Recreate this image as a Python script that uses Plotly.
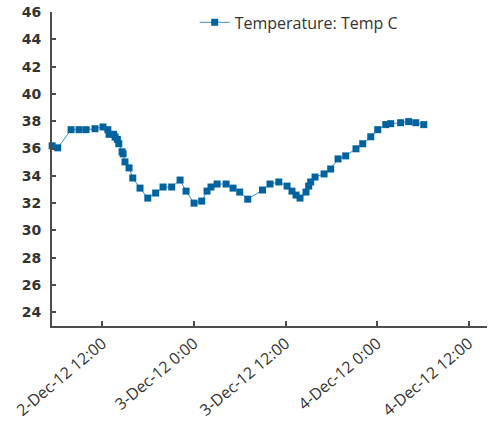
import plotly.graph_objects as go

times = [
    "2012-12-02 05:25", "2012-12-02 06:09", "2012-12-02 07:54", "2012-12-02 08:57",
    "2012-12-02 09:52", "2012-12-02 11:02", "2012-12-02 12:05", "2012-12-02 12:43",
    "2012-12-02 12:53", "2012-12-02 13:29", "2012-12-02 13:40", "2012-12-02 13:58",
    "2012-12-02 14:09", "2012-12-02 14:35", "2012-12-02 14:43", "2012-12-02 14:58",
    "2012-12-02 15:30", "2012-12-02 15:59", "2012-12-02 16:56", "2012-12-02 17:57",
    "2012-12-02 18:59", "2012-12-02 19:57", "2012-12-02 21:05", "2012-12-02 22:11",
    "2012-12-02 22:58", "2012-12-03 00:01", "2012-12-03 01:01", "2012-12-03 01:43",
    "2012-12-03 02:14", "2012-12-03 03:02", "2012-12-03 04:13", "2012-12-03 05:07",
    "2012-12-03 06:00", "2012-12-03 07:03", "2012-12-03 08:59", "2012-12-03 09:58",
    "2012-12-03 11:07", "2012-12-03 12:12", "2012-12-03 12:51", "2012-12-03 13:23",
    "2012-12-03 13:54", "2012-12-03 14:41", "2012-12-03 15:02", "2012-12-03 15:18",
    "2012-12-03 15:52", "2012-12-03 17:03", "2012-12-03 17:55", "2012-12-03 18:53",
    "2012-12-03 19:53", "2012-12-03 21:14", "2012-12-03 22:07", "2012-12-03 23:10",
    "2012-12-04 00:05", "2012-12-04 01:08", "2012-12-04 01:47", "2012-12-04 03:05",
    "2012-12-04 04:08", "2012-12-04 05:04", "2012-12-04 06:07",
]

temps = [
    36.20, 36.05, 37.38, 37.38, 37.38, 37.45, 37.58, 37.38,
    37.04, 37.04, 36.84, 36.67, 36.35, 35.76, 35.61, 35.02,
    34.58, 33.84, 33.10, 32.37, 32.74, 33.18, 33.18, 33.69,
    32.88, 32.00, 32.15, 32.88, 33.18, 33.40, 33.40, 33.10,
    32.81, 32.29, 32.96, 33.40, 33.55, 33.25, 32.88, 32.59,
    32.37, 32.81, 33.25, 33.55, 33.91, 34.14, 34.50, 35.24,
    35.46, 35.98, 36.35, 36.86, 37.38, 37.75, 37.82, 37.89,
    37.97, 37.89, 37.75,
]

x_tick_vals = ["2012-12-02 12:00", "2012-12-03 00:00", "2012-12-03 12:00",
               "2012-12-04 00:00", "2012-12-04 12:00"]
x_tick_text = ["2-Dec-12 12:00", "3-Dec-12 0:00", "3-Dec-12 12:00",
               "4-Dec-12 0:00", "4-Dec-12 12:00"]
y_tick_vals = [24, 26, 28, 30, 32, 34, 36, 38, 40, 42, 44, 46]

series_name = "Temperature: Temp C"

fig = go.Figure()
fig.add_trace(go.Scatter(
    x=times, y=temps, mode="lines+markers", name=series_name,
    line=dict(color="#3f8cc6", width=1),
    marker=dict(symbol="square", size=7, color="#00639f"),
    cliponaxis=False,
))

fig.update_layout(
    width=488, height=422,
    margin=dict(l=52, r=1, t=12, b=96, autoexpand=False),
    paper_bgcolor="white", plot_bgcolor="white",
    showlegend=True,
    legend=dict(x=0.328, y=1.021, xanchor="left", yanchor="top",
                font=dict(family="Open Sans", size=16, color="#333333"),
                bgcolor="rgba(0,0,0,0)"),
    font=dict(family="Open Sans", color="#333333"),
)

fig.update_xaxes(
    type="date",
    range=["2012-12-02 05:24", "2012-12-04 14:24"],
    tickmode="array", tickvals=x_tick_vals, ticktext=x_tick_text,
    tickangle=-40, ticks="inside", ticklen=5, tickcolor="#4d4d4d", tickwidth=1.5,
    showline=True, linecolor="#4d4d4d", linewidth=2,
    showgrid=False, zeroline=False, automargin=False,
    tickfont=dict(family="Open Sans", size=16, color="#333333"),
)
fig.update_yaxes(
    range=[23, 46],
    tickmode="array", tickvals=y_tick_vals,
    ticks="inside", ticklen=4, tickcolor="#4d4d4d", tickwidth=1.5,
    showline=True, linecolor="#4d4d4d", linewidth=2,
    showgrid=False, zeroline=False, automargin=False,
    tickfont=dict(family="DejaVu Sans", size=14, color="#333333", weight="bold"),
    ticklabelstandoff=6,
)

fig.write_html("out.html", config={"displayModeBar": False},
               post_script="document.body.style.margin='0px';")
